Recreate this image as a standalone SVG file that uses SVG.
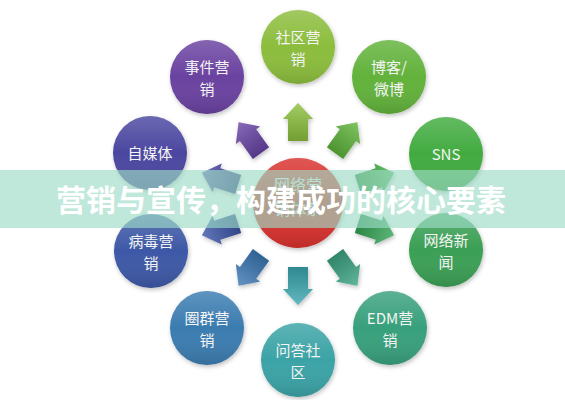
<svg xmlns="http://www.w3.org/2000/svg" xmlns:xlink="http://www.w3.org/1999/xlink" width="565" height="400" viewBox="0 0 565 400">
<style>
.lbl{font-family:"Noto Sans CJK SC","Liberation Sans",sans-serif;font-size:15px;fill:#f4f4f4;text-anchor:middle}
.ctr{font-family:"Noto Sans CJK SC","Liberation Sans",sans-serif;font-size:16px;fill:#e8e8e8;text-anchor:middle}
.title{font-family:"Noto Sans CJK SC","Liberation Sans",sans-serif;font-size:30px;font-weight:bold;fill:#ffffff;text-anchor:middle}
</style>
<defs>
<filter id="sh" x="-30%" y="-30%" width="160%" height="160%">
<feDropShadow dx="1" dy="2" stdDeviation="2" flood-color="#000" flood-opacity="0.25"/>
</filter>
<linearGradient id="cg" x1="0" y1="0" x2="0" y2="1">
<stop offset="0" stop-color="#fff" stop-opacity="0.18"/>
<stop offset="0.5" stop-color="#fff" stop-opacity="0"/>
<stop offset="1" stop-color="#000" stop-opacity="0.12"/>
</linearGradient>
<linearGradient id="ag" x1="0" y1="0" x2="0" y2="1">
<stop offset="0" stop-color="#fff" stop-opacity="0.2"/>
<stop offset="1" stop-color="#000" stop-opacity="0.18"/>
</linearGradient>
<polygon id="arr" points="298,103 313,119 308,119 308,141 288,141 288,119 283,119"/>
</defs>
<rect width="565" height="400" fill="#ffffff"/>
<g id="connectors" filter="url(#sh)">
<g fill="#8dc23c"><use xlink:href="#arr"/></g>
<g fill="#5fb53a" transform="rotate(36 298 204)"><use xlink:href="#arr"/></g>
<g fill="#3fae45" transform="rotate(72 298 204)"><use xlink:href="#arr"/></g>
<g fill="#35a456" transform="rotate(108 298 204)"><use xlink:href="#arr"/></g>
<g fill="#3aa383" transform="rotate(144 298 204)"><use xlink:href="#arr"/></g>
<g fill="#3ba7b0" transform="rotate(180 298 204)"><use xlink:href="#arr"/></g>
<g fill="#3a78b5" transform="rotate(216 298 204)"><use xlink:href="#arr"/></g>
<g fill="#3b56a8" transform="rotate(252 298 204)"><use xlink:href="#arr"/></g>
<g fill="#4a4aa5" transform="rotate(288 298 204)"><use xlink:href="#arr"/></g>
<g fill="#6a44a8" transform="rotate(324 298 204)"><use xlink:href="#arr"/></g>
</g>
<g id="arrow-shade" fill="url(#ag)">
<use xlink:href="#arr"/>
<use xlink:href="#arr" transform="rotate(36 298 204)"/>
<use xlink:href="#arr" transform="rotate(72 298 204)"/>
<use xlink:href="#arr" transform="rotate(108 298 204)"/>
<use xlink:href="#arr" transform="rotate(144 298 204)"/>
<use xlink:href="#arr" transform="rotate(180 298 204)"/>
<use xlink:href="#arr" transform="rotate(216 298 204)"/>
<use xlink:href="#arr" transform="rotate(252 298 204)"/>
<use xlink:href="#arr" transform="rotate(288 298 204)"/>
<use xlink:href="#arr" transform="rotate(324 298 204)"/>
</g>
<g id="center">
<circle cx="298" cy="203" r="45" fill="#d8312d" filter="url(#sh)"/>
<circle cx="298" cy="203" r="45" fill="url(#cg)"/>
<text class="ctr" x="298" y="191">网络营</text>
<text class="ctr" x="298" y="215">销体系</text>
</g>
<g id="n-shequ">
<circle cx="298" cy="47" r="37" fill="#8cbd3c" filter="url(#sh)"/><circle cx="298" cy="47" r="37" fill="url(#cg)"/>
<text class="lbl" x="298" y="43">社区营</text><text class="lbl" x="298" y="65">销</text>
</g>
<g id="n-boke">
<circle cx="389" cy="77" r="37" fill="#62b23a" filter="url(#sh)"/><circle cx="389" cy="77" r="37" fill="url(#cg)"/>
<text class="lbl" x="389" y="73">博客/</text><text class="lbl" x="389" y="95">微博</text>
</g>
<g id="n-sns">
<circle cx="446" cy="154" r="37" fill="#43ab40" filter="url(#sh)"/><circle cx="446" cy="154" r="37" fill="url(#cg)"/>
<text class="lbl" x="446" y="160">SNS</text>
</g>
<g id="n-xinwen">
<circle cx="446" cy="250" r="37" fill="#3a9f55" filter="url(#sh)"/><circle cx="446" cy="250" r="37" fill="url(#cg)"/>
<text class="lbl" x="446" y="246">网络新</text><text class="lbl" x="446" y="268">闻</text>
</g>
<g id="n-edm">
<circle cx="390" cy="328" r="37" fill="#38a07c" filter="url(#sh)"/><circle cx="390" cy="328" r="37" fill="url(#cg)"/>
<text class="lbl" x="390" y="324">EDM营</text><text class="lbl" x="390" y="346">销</text>
</g>
<g id="n-wenda">
<circle cx="298" cy="360" r="37" fill="#3aa3a6" filter="url(#sh)"/><circle cx="298" cy="360" r="37" fill="url(#cg)"/>
<text class="lbl" x="298" y="356">问答社</text><text class="lbl" x="298" y="378">区</text>
</g>
<g id="n-quanqun">
<circle cx="207" cy="328" r="37" fill="#3b7bb0" filter="url(#sh)"/><circle cx="207" cy="328" r="37" fill="url(#cg)"/>
<text class="lbl" x="207" y="324">圈群营</text><text class="lbl" x="207" y="346">销</text>
</g>
<g id="n-bingdu">
<circle cx="151" cy="251" r="37" fill="#3d59a6" filter="url(#sh)"/><circle cx="151" cy="251" r="37" fill="url(#cg)"/>
<text class="lbl" x="151" y="247">病毒营</text><text class="lbl" x="151" y="269">销</text>
</g>
<g id="n-zimeiti">
<circle cx="150" cy="153" r="37" fill="#4b46a0" filter="url(#sh)"/><circle cx="150" cy="153" r="37" fill="url(#cg)"/>
<text class="lbl" x="150" y="159">自媒体</text>
</g>
<g id="n-shijian">
<circle cx="207" cy="77" r="37" fill="#6a42a0" filter="url(#sh)"/><circle cx="207" cy="77" r="37" fill="url(#cg)"/>
<text class="lbl" x="207" y="73">事件营</text><text class="lbl" x="207" y="95">销</text>
</g>
<g id="banner">
<rect x="0" y="170" width="565" height="58" fill="rgb(157,220,198)" fill-opacity="0.65"/>
<text class="title" x="281" y="211">营销与宣传，构建成功的核心要素</text>
</g>
</svg>
